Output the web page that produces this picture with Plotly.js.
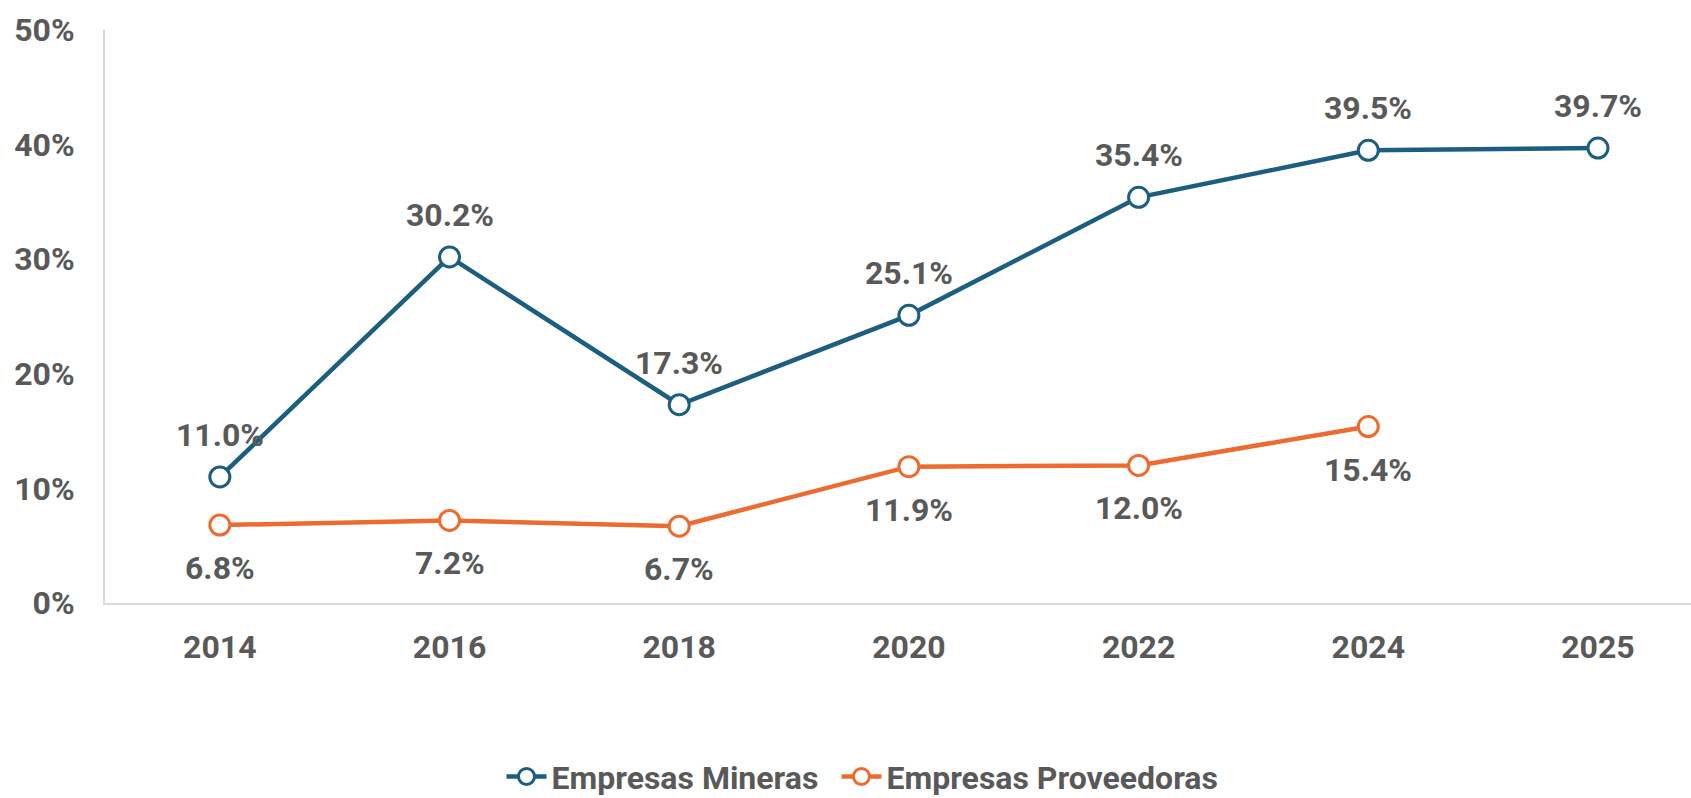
<!DOCTYPE html>
<html><head><meta charset="utf-8">
<script src="https://cdn.plot.ly/plotly-3.0.1.min.js"></script>
<style>html,body{margin:0;padding:0;background:#fff;}#chart{width:1691px;height:798px;}</style>
</head><body><div id="chart"></div>
<script>
const years = ['2014','2016','2018','2020','2022','2024','2025'];
const mineras = [11.0, 30.2, 17.3, 25.1, 35.4, 39.5, 39.7];
const proveedoras = [6.8, 7.2, 6.7, 11.9, 12.0, 15.4, null];
const yTicks = [0, 10, 20, 30, 40, 50];
const yTickText = ['0%', '10%', '20%', '30%', '40%', '50%'];

const FONT = 'Roboto, "Liberation Sans", Arial, sans-serif';
const TXT = '#595959';
const BLUE = '#1b5e80';
const ORANGE = '#ed6b2f';

const traces = [
  {x: years, y: mineras, name: 'Empresas Mineras', type: 'scatter', mode: 'lines+markers', legend: 'legend',
   line: {color: BLUE, width: 4.5}, marker: {size: 20, color: '#fff', line: {color: BLUE, width: 3}}},
  {x: years, y: proveedoras, name: 'Empresas Proveedoras', type: 'scatter', mode: 'lines+markers', legend: 'legend2',
   line: {color: ORANGE, width: 4.5}, marker: {size: 20, color: '#fff', line: {color: ORANGE, width: 3}}}
];

const annotations = [];
years.forEach((yr, i) => {
  if (mineras[i] != null) annotations.push({xref: 'x', yref: 'y', x: i, y: mineras[i], text: mineras[i].toFixed(1) + '%',
    showarrow: false, yshift: 42, font: {family: FONT, size: 32, color: TXT, weight: 700}});
  if (proveedoras[i] != null) annotations.push({xref: 'x', yref: 'y', x: i, y: proveedoras[i], text: proveedoras[i].toFixed(1) + '%',
    showarrow: false, yshift: -43, font: {family: FONT, size: 32, color: TXT, weight: 700}});
});

const legendFont = {family: FONT, size: 32, color: TXT, weight: 700};

const layout = {
  width: 1691, height: 798,
  margin: {l: 105, r: 0, t: 30, b: 195, autoexpand: false},
  paper_bgcolor: '#fff', plot_bgcolor: 'rgba(0,0,0,0)',
  font: {family: FONT, color: TXT, weight: 700},
  showlegend: true,
  legend: {orientation: 'h', x: 0.25, xanchor: 'left', y: -0.303, yanchor: 'middle',
    font: legendFont, itemwidth: 40},
  legend2: {orientation: 'h', x: 0.4612, xanchor: 'left', y: -0.303, yanchor: 'middle',
    font: legendFont, itemwidth: 40},
  xaxis: {type: 'category', range: [-0.5, 6.405], showgrid: false, zeroline: false,
    showline: true, linecolor: '#d9d9d9', linewidth: 2, ticks: '', ticklabelstandoff: 15,
    tickfont: {family: FONT, size: 32, color: TXT, weight: 700}},
  yaxis: {range: [0, 50], tickvals: yTicks, ticktext: yTickText, showgrid: false, zeroline: false,
    showline: true, linecolor: '#d9d9d9', linewidth: 2, ticks: '', ticklabelstandoff: 22,
    tickfont: {family: FONT, size: 32, color: TXT, weight: 700}},
  annotations: annotations
};

Plotly.newPlot('chart', traces, layout, {displayModeBar: false, staticPlot: true});
</script></body></html>
